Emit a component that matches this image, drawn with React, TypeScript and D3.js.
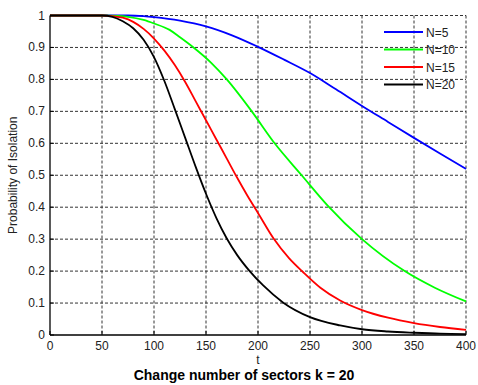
import React from "react";
import * as d3 from "d3";

const xTicks = [0, 50, 100, 150, 200, 250, 300, 350, 400];
const yTicks = [0, 0.1, 0.2, 0.3, 0.4, 0.5, 0.6, 0.7, 0.8, 0.9, 1];
const yTickLabels = ["0", "0.1", "0.2", "0.3", "0.4", "0.5", "0.6", "0.7", "0.8", "0.9", "1"];

const tN5 = [0, 50, 75, 90, 100, 125, 150, 175, 200, 225, 250, 275, 300, 325, 350, 375, 400];
const vN5 = [1, 1, 1, 0.998, 0.995, 0.984, 0.966, 0.938, 0.902, 0.862, 0.82, 0.769, 0.717, 0.667, 0.617, 0.568, 0.52];

const tN10 = [0, 50, 65, 75, 90, 100, 115, 125, 138, 155, 170, 194, 216, 242, 267, 300, 341, 370, 400];
const vN10 = [1, 1, 0.999, 0.996, 0.986, 0.975, 0.955, 0.932, 0.9, 0.852, 0.8, 0.7, 0.6, 0.5, 0.405, 0.3, 0.2, 0.148, 0.105];

const tN15 = [0, 50, 60, 70, 80, 90, 100, 110, 120, 130, 140, 150, 160, 170, 180, 190, 200, 215, 230, 243, 260, 279, 300, 325, 350, 375, 400];
const vN15 = [1, 1, 0.998, 0.993, 0.98, 0.958, 0.928, 0.89, 0.845, 0.792, 0.732, 0.672, 0.612, 0.552, 0.492, 0.435, 0.382, 0.302, 0.24, 0.198, 0.148, 0.108, 0.078, 0.054, 0.037, 0.025, 0.016];

const tN20 = [0, 50, 60, 70, 80, 90, 100, 110, 120, 130, 140, 150, 160, 170, 180, 192, 205, 224, 250, 279, 300, 325, 350, 375, 400];
const vN20 = [1, 1, 0.996, 0.982, 0.96, 0.924, 0.87, 0.795, 0.707, 0.617, 0.527, 0.442, 0.366, 0.302, 0.25, 0.2, 0.155, 0.102, 0.056, 0.03, 0.018, 0.011, 0.007, 0.004, 0.003];

const seriesNames = ["N=5", "N=10", "N=15", "N=20"];
const seriesColors = ["#0000ff", "#00ff00", "#ff0000", "#000000"];
const seriesT = [tN5, tN10, tN15, tN20];
const seriesV = [vN5, vN10, vN15, vN20];

const W = 478;
const H = 385;
const left = 50, right = 466, top = 15.5, bottom = 335;

export default function App() {
  const x = d3.scaleLinear().domain([0, 400]).range([left, right]);
  const y = d3.scaleLinear().domain([0, 1]).range([bottom, top]);
  const line = d3
    .line<[number, number]>()
    .x((d) => x(d[0]))
    .y((d) => y(Math.min(1, d[1])))
    .curve(d3.curveMonotoneX);

  const font = "Arial, 'Liberation Sans', sans-serif";
  const gridColor = "#333";
  const dash = "3,2";

  return (
    <svg
      width={W}
      height={H}
      style={{ position: "absolute", left: 0, top: 0, background: "#fff" }}
      fontFamily={font}
    >
      <rect x={0} y={0} width={W} height={H} fill="#fff" />
      {/* grid */}
      {xTicks.slice(1).map((t) => (
        <line key={"gx" + t} x1={x(t)} x2={x(t)} y1={top} y2={bottom} stroke={gridColor} strokeWidth={1} strokeDasharray={dash} />
      ))}
      {yTicks.slice(1).map((t) => (
        <line key={"gy" + t} x1={left} x2={right} y1={y(t)} y2={y(t)} stroke={gridColor} strokeWidth={1} strokeDasharray={dash} />
      ))}
      {/* curves */}
      {seriesT.map((ts, i) => {
        const pts: [number, number][] = ts.map((t, j) => [t, seriesV[i][j]]);
        return (
          <path key={"s" + i} d={line(pts) || ""} fill="none" stroke={seriesColors[i]} strokeWidth={1.8} strokeLinejoin="round" />
        );
      })}
      {/* axes */}
      <line x1={left} x2={left} y1={top} y2={bottom} stroke="#000" strokeWidth={1.3} />
      <line x1={left} x2={right} y1={bottom} y2={bottom} stroke="#000" strokeWidth={1.3} />
      {xTicks.map((t) => (
        <line key={"tx" + t} x1={x(t)} x2={x(t)} y1={bottom} y2={bottom - 4} stroke="#000" strokeWidth={1} />
      ))}
      {yTicks.map((t) => (
        <line key={"ty" + t} x1={left} x2={left + 4} y1={y(t)} y2={y(t)} stroke="#000" strokeWidth={1} />
      ))}
      {/* tick labels */}
      {xTicks.map((t) => (
        <text key={"lx" + t} x={x(t)} y={350} fontSize={12} textAnchor="middle" fill="#222">
          {t}
        </text>
      ))}
      {yTicks.map((t, i) => (
        <text key={"ly" + t} x={left - 5} y={y(t) + 4} fontSize={12} textAnchor="end" fill="#222">
          {yTickLabels[i]}
        </text>
      ))}
      {/* axis labels */}
      <text x={x(200)} y={364} fontSize={12} textAnchor="middle" fill="#222">t</text>
      <text
        transform={`translate(17, ${(top + bottom) / 2}) rotate(-90)`}
        fontSize={12}
        textAnchor="middle"
        fill="#222"
      >
        Probability of Isolation
      </text>
      <text x={244} y={380} fontSize={14} fontWeight="bold" textAnchor="middle" fill="#000">
        Change number of sectors k = 20
      </text>
      {/* legend */}
      {seriesNames.map((n, i) => {
        const ly = 32 + i * 17.5;
        return (
          <g key={"lg" + i}>
            <line x1={384} x2={423} y1={ly} y2={ly} stroke={seriesColors[i]} strokeWidth={1.8} />
            <text x={426} y={ly + 4.5} fontSize={12} fill="#222">{n}</text>
          </g>
        );
      })}
    </svg>
  );
}
